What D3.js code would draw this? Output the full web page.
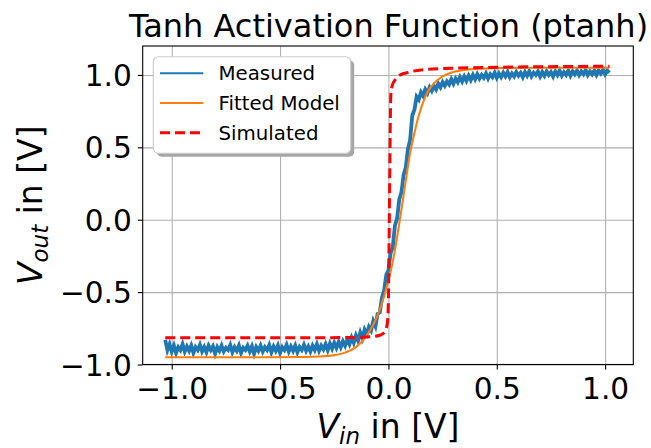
<!DOCTYPE html>
<html>
<head>
<meta charset="utf-8">
<script src="https://cdn.jsdelivr.net/npm/d3@7/dist/d3.min.js"></script>
<style>
  body { margin: 0; background: #fff; }
  text { font-family: "DejaVu Sans", sans-serif; }
</style>
</head>
<body>
<svg width="651" height="448"></svg>
<script>
// ---- data ----
var xTicks = [-1.0, -0.5, 0.0, 0.5, 1.0];
var yTicks = [-1.0, -0.5, 0.0, 0.5, 1.0];
var seriesNames = ['Measured', 'Fitted Model', 'Simulated'];

var measuredX = [
  -1.03,-1.02,-1.01,-1.00,-0.99,-0.98,-0.97,-0.96,-0.95,-0.94,-0.93,-0.92,-0.91,-0.90,
  -0.89,-0.88,-0.87,-0.86,-0.85,-0.84,-0.83,-0.82,-0.81,-0.80,-0.79,-0.78,-0.77,-0.76,
  -0.75,-0.74,-0.73,-0.72,-0.71,-0.70,-0.69,-0.68,-0.67,-0.66,-0.65,-0.64,-0.63,-0.62,
  -0.61,-0.60,-0.59,-0.58,-0.57,-0.56,-0.55,-0.54,-0.53,-0.52,-0.51,-0.50,-0.49,-0.48,
  -0.47,-0.46,-0.45,-0.44,-0.43,-0.42,-0.41,-0.40,-0.39,-0.38,-0.37,-0.36,-0.35,-0.34,
  -0.33,-0.32,-0.31,-0.30,-0.29,-0.28,-0.27,-0.26,-0.25,-0.24,-0.23,-0.22,-0.21,-0.20,
  -0.19,-0.18,-0.17,-0.16,-0.15,-0.14,-0.13,-0.12,-0.11,-0.10,-0.09,-0.08,-0.07,-0.06,
  -0.05,-0.04,-0.03,-0.02,-0.01, 0.00, 0.01, 0.02, 0.03, 0.04, 0.05, 0.06, 0.07, 0.08,
   0.09, 0.10, 0.11, 0.12, 0.13, 0.14, 0.15, 0.16, 0.17, 0.18, 0.19, 0.20, 0.21, 0.22,
   0.23, 0.24, 0.25, 0.26, 0.27, 0.28, 0.29, 0.30, 0.31, 0.32, 0.33, 0.34, 0.35, 0.36,
   0.37, 0.38, 0.39, 0.40, 0.41, 0.42, 0.43, 0.44, 0.45, 0.46, 0.47, 0.48, 0.49, 0.50,
   0.51, 0.52, 0.53, 0.54, 0.55, 0.56, 0.57, 0.58, 0.59, 0.60, 0.61, 0.62, 0.63, 0.64,
   0.65, 0.66, 0.67, 0.68, 0.69, 0.70, 0.71, 0.72, 0.73, 0.74, 0.75, 0.76, 0.77, 0.78,
   0.79, 0.80, 0.81, 0.82, 0.83, 0.84, 0.85, 0.86, 0.87, 0.88, 0.89, 0.90, 0.91, 0.92,
   0.93, 0.94, 0.95, 0.96, 0.97, 0.98, 0.99, 1.00, 1.01, 1.02
];
var measuredY = [
  -0.83,-0.90,-0.86,-0.91,-0.87,-0.92,-0.88,-0.90,-0.86,-0.91,-0.875,-0.905,-0.87,-0.92,
  -0.88,-0.90,-0.865,-0.91,-0.88,-0.915,-0.87,-0.90,-0.875,-0.925,-0.88,-0.905,-0.87,-0.91,
  -0.885,-0.90,-0.865,-0.915,-0.88,-0.905,-0.87,-0.92,-0.885,-0.90,-0.87,-0.91,-0.875,-0.925,
  -0.88,-0.905,-0.87,-0.91,-0.88,-0.90,-0.865,-0.915,-0.875,-0.905,-0.87,-0.92,-0.88,-0.90,
  -0.865,-0.91,-0.875,-0.905,-0.87,-0.915,-0.88,-0.90,-0.865,-0.905,-0.875,-0.91,-0.87,-0.90,
  -0.86,-0.905,-0.87,-0.895,-0.86,-0.90,-0.855,-0.89,-0.85,-0.885,-0.845,-0.88,-0.84,-0.87,
  -0.83,-0.86,-0.815,-0.85,-0.80,-0.835,-0.78,-0.82,-0.76,-0.79,-0.74,-0.765,-0.70,-0.735,
  -0.65,-0.64,-0.54,-0.49,-0.38,-0.35,-0.23,-0.19,-0.04,0.01,0.14,0.19,0.31,0.36,
  0.49,0.55,0.72,0.76,0.85,0.83,0.88,0.855,0.90,0.875,0.915,0.89,0.925,0.90,
  0.94,0.915,0.95,0.925,0.955,0.935,0.97,0.94,0.975,0.95,0.985,0.955,0.99,0.96,
  0.995,0.965,1.00,0.97,1.005,0.975,1.00,0.98,1.01,0.975,1.005,0.985,1.015,0.98,
  1.01,0.985,1.015,0.99,1.02,0.985,1.01,0.99,1.02,0.995,1.015,0.985,1.02,0.995,
  1.025,0.99,1.015,1.00,1.025,0.99,1.02,0.995,1.025,1.00,1.02,0.99,1.025,1.00,
  1.03,0.995,1.02,1.00,1.03,0.995,1.025,1.005,1.03,1.00,1.025,1.005,1.035,1.00,
  1.025,1.005,1.03,1.00,1.03,1.01,1.035,1.005,1.03,1.015
];

var fittedX = [-1.03,-0.8,-0.6,-0.4,-0.3,-0.25,-0.2,-0.15,-0.1,-0.05,-0.02,0.0,0.02,0.04,
  0.06,0.08,0.1,0.12,0.14,0.16,0.18,0.2,0.25,0.3,0.35,0.4,0.5,0.7,1.02];
var fittedY = [-0.95,-0.95,-0.95,-0.948,-0.943,-0.935,-0.918,-0.88,-0.80,-0.66,-0.53,-0.42,-0.29,-0.12,
  0.07,0.27,0.46,0.60,0.72,0.81,0.88,0.925,0.99,1.02,1.035,1.042,1.047,1.05,1.05];

var simX = [-1.03,-0.6,-0.3,-0.15,-0.08,-0.04,-0.02,-0.01,-0.004,0.0,0.002,0.004,0.006,0.008,
  0.011,0.018,0.031,0.054,0.085,0.15,0.285,0.6,1.02];
var simY = [-0.816,-0.816,-0.815,-0.813,-0.808,-0.798,-0.78,-0.75,-0.70,-0.55,-0.3,0.0,0.3,0.6,
  0.86,0.93,0.966,1.0,1.015,1.035,1.046,1.055,1.06];

// ---- layout ----
var svg = d3.select('svg'),
    pLeft = 142.7, pRight = 633.3, pTop = 46, pBottom = 364.5;

var x = d3.scaleLinear().domain([-1.134, 1.13]).range([pLeft, pRight]),
    y = d3.scaleLinear().domain([-1.0, 1.2]).range([pBottom, pTop]);

var fmt = function(d) { return d3.format('.1f')(d).replace('-', '\u2212'); };

// grid
svg.append('g')
    .attr('transform', 'translate(0,' + pBottom + ')')
    .call(d3.axisBottom(x).tickValues(xTicks).tickSize(-(pBottom - pTop)).tickFormat(''))
    .call(function(g) {
      g.select('.domain').remove();
      g.selectAll('line').attr('stroke', '#b0b0b0').attr('stroke-width', 1.1);
    });
svg.append('g')
    .attr('transform', 'translate(' + pLeft + ',0)')
    .call(d3.axisLeft(y).tickValues(yTicks).tickSize(-(pRight - pLeft)).tickFormat(''))
    .call(function(g) {
      g.select('.domain').remove();
      g.selectAll('line').attr('stroke', '#b0b0b0').attr('stroke-width', 1.1);
    });

// lines
svg.append('clipPath').attr('id', 'plot-clip')
  .append('rect').attr('x', pLeft).attr('y', pTop).attr('width', pRight - pLeft).attr('height', pBottom - pTop);

var line = d3.line().x(function(d) { return x(d[0]); }).y(function(d) { return y(d[1]); });
var smooth = d3.line().curve(d3.curveMonotoneX)
    .x(function(d) { return x(d[0]); }).y(function(d) { return y(d[1]); });
var plot = svg.append('g').attr('clip-path', 'url(#plot-clip)');

// measured trace is dense in the original, so draw it as a heavy band
plot.append('path')
    .attr('d', line(d3.zip(measuredX, measuredY)))
    .attr('fill', 'none').attr('stroke', '#1f77b4').attr('stroke-width', 3.8)
    .attr('stroke-linejoin', 'miter');
plot.append('path')
    .attr('d', smooth(d3.zip(fittedX, fittedY)))
    .attr('fill', 'none').attr('stroke', '#ff7f0e').attr('stroke-width', 2.1);
plot.append('path')
    .attr('d', smooth(d3.zip(simX, simY)))
    .attr('fill', 'none').attr('stroke', '#ff0000').attr('stroke-width', 3)
    .attr('stroke-dasharray', '10,5');

// frame
svg.append('rect')
    .attr('x', pLeft).attr('y', pTop).attr('width', pRight - pLeft).attr('height', pBottom - pTop)
    .attr('fill', 'none').attr('stroke', '#000').attr('stroke-width', 1.1);

// axes
svg.append('g')
    .attr('transform', 'translate(0,' + pBottom + ')')
    .call(d3.axisBottom(x).tickValues(xTicks).tickSize(4.9).tickPadding(9).tickFormat(fmt))
    .call(function(g) {
      g.select('.domain').remove();
      g.selectAll('line').attr('stroke', '#000').attr('stroke-width', 1.1);
      g.selectAll('text').attr('font-size', 29.6).attr('fill', '#000')
        .attr('font-family', '"DejaVu Sans", sans-serif');
    });
svg.append('g')
    .attr('transform', 'translate(' + pLeft + ',0)')
    .call(d3.axisLeft(y).tickValues(yTicks).tickSize(4.9).tickPadding(6).tickFormat(fmt))
    .call(function(g) {
      g.select('.domain').remove();
      g.selectAll('line').attr('stroke', '#000').attr('stroke-width', 1.1);
      g.selectAll('text').attr('font-size', 29.6).attr('fill', '#000').attr('dy', '0.36em')
        .attr('font-family', '"DejaVu Sans", sans-serif');
    });

// title
svg.append('text')
    .attr('x', (pLeft + pRight) / 2 + 0.5).attr('y', 36.7)
    .attr('text-anchor', 'middle').attr('font-size', 32)
    .text('Tanh Activation Function (ptanh)');

// axis labels
var xl = svg.append('text')
    .attr('x', (pLeft + pRight) / 2).attr('y', 438)
    .attr('text-anchor', 'middle').attr('font-size', 33);
xl.append('tspan').attr('font-style', 'italic').text('V');
xl.append('tspan').attr('font-style', 'italic').attr('font-size', 23).attr('dy', 6).text('in');
xl.append('tspan').attr('dy', -6).text(' in [V]');

var yl = svg.append('text')
    .attr('transform', 'translate(42,' + ((pTop + pBottom) / 2) + ') rotate(-90)')
    .attr('text-anchor', 'middle').attr('font-size', 33);
yl.append('tspan').attr('font-style', 'italic').text('V');
yl.append('tspan').attr('font-style', 'italic').attr('font-size', 23).attr('dy', 6).text('out');
yl.append('tspan').attr('dy', -6).text(' in [V]');

// legend
var lx = 153.3, ly = 56.7, lw = 197.4, lh = 96.6;
var legend = svg.append('g');
legend.append('rect')
    .attr('x', lx + 3.5).attr('y', ly + 3.5).attr('width', lw).attr('height', lh).attr('rx', 5)
    .attr('fill', '#a6a6a6');
legend.append('rect')
    .attr('x', lx).attr('y', ly).attr('width', lw).attr('height', lh).attr('rx', 5)
    .attr('fill', '#fff').attr('stroke', '#cccccc').attr('stroke-width', 1.1);

var legendStyle = [
  { color: '#1f77b4', width: 2.1, dash: null },
  { color: '#ff7f0e', width: 2.1, dash: null },
  { color: '#ff0000', width: 3, dash: '10,5' }
];
var rowY = d3.scaleLinear().domain([0, 1]).range([ly + 16.6, ly + 46.3]);
seriesNames.forEach(function(name, i) {
  var yy = rowY(i);
  legend.append('line')
      .attr('x1', 160).attr('x2', 203.3).attr('y1', yy).attr('y2', yy)
      .attr('stroke', legendStyle[i].color).attr('stroke-width', legendStyle[i].width)
      .attr('stroke-dasharray', legendStyle[i].dash);
  legend.append('text')
      .attr('x', 218.5).attr('y', yy + 7.1).attr('font-size', 19.8)
      .text(name);
});
</script>
</body>
</html>
